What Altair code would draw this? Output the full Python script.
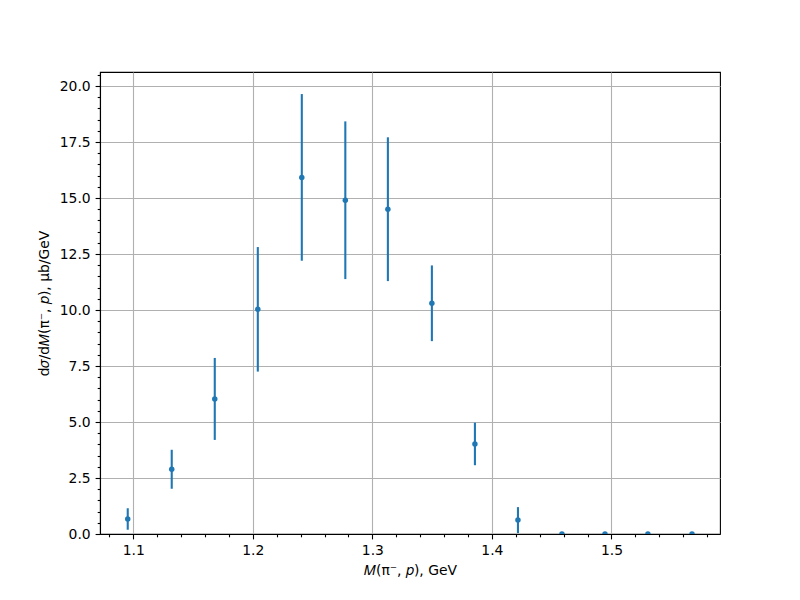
import altair as alt
import pandas as pd

# Data
mass = [1.0954, 1.1322, 1.1682, 1.2042, 1.2410, 1.2774, 1.3130,
        1.3498, 1.3858, 1.4218, 1.4586, 1.4946, 1.5305, 1.5674]
xsec = [0.67, 2.89, 6.03, 10.03, 15.92, 14.90, 14.50,
        10.30, 4.02, 0.62, 0.0, 0.0, 0.0, 0.0]
err = [0.48, 0.87, 1.83, 2.78, 3.72, 3.52, 3.21,
       1.69, 0.95, 0.58, 0.0, 0.0, 0.0, 0.0]

x_ticks = [1.08, 1.10, 1.12, 1.14, 1.16, 1.18, 1.20, 1.22, 1.24, 1.26, 1.28,
           1.30, 1.32, 1.34, 1.36, 1.38, 1.40, 1.42, 1.44, 1.46, 1.48, 1.50,
           1.52, 1.54, 1.56, 1.58]
y_ticks = [0.0, 0.5, 1.0, 1.5, 2.0, 2.5, 3.0, 3.5, 4.0, 4.5, 5.0, 5.5, 6.0,
           6.5, 7.0, 7.5, 8.0, 8.5, 9.0, 9.5, 10.0, 10.5, 11.0, 11.5, 12.0,
           12.5, 13.0, 13.5, 14.0, 14.5, 15.0, 15.5, 16.0, 16.5, 17.0, 17.5,
           18.0, 18.5, 19.0, 19.5, 20.0, 20.5]

df = pd.DataFrame({
    "m": mass,
    "y": xsec,
    "lo": [v - e for v, e in zip(xsec, err)],
    "hi": [v + e for v, e in zip(xsec, err)],
})

FONT = "DejaVu Sans"
BLUE = "#1f77b4"

x_major = "abs(datum.value*10 - round(datum.value*10)) < 0.001"
y_major = "abs(datum.value/2.5 - round(datum.value/2.5)) < 0.001"

x_axis = alt.Axis(
    values=x_ticks,
    title="𝑀(π⁻, 𝑝), GeV",
    labelExpr=f"{x_major} ? format(datum.value, '.1f') : ''",
    gridOpacity={"condition": {"test": x_major, "value": 1}, "value": 0},
    tickSize={"condition": {"test": x_major, "value": 4.9}, "value": 2.8},
    labelPadding=4.9,
    titlePadding=6,
)
y_axis = alt.Axis(
    values=y_ticks,
    title="d𝜎/d𝑀(π⁻, 𝑝), μb/GeV",
    labelExpr=f"{y_major} ? format(datum.value, '.1f') : ''",
    gridOpacity={"condition": {"test": y_major, "value": 1}, "value": 0},
    tickSize={"condition": {"test": y_major, "value": 4.9}, "value": 2.8},
    labelPadding=4.9,
    titlePadding=8,
)

xs = alt.Scale(domain=[1.0722, 1.5908], nice=False, zero=False)
ys = alt.Scale(domain=[0, 20.625], nice=False, zero=False)

bars = alt.Chart(df).mark_rule(color=BLUE, strokeWidth=2.1, clip=True).encode(
    x=alt.X("m:Q", scale=xs, axis=x_axis),
    y=alt.Y("lo:Q", scale=ys, axis=y_axis),
    y2="hi:Q",
)
pts = alt.Chart(df).mark_circle(color=BLUE, size=30, opacity=1, clip=True).encode(
    x=alt.X("m:Q", scale=xs, axis=x_axis),
    y=alt.Y("y:Q", scale=ys, axis=y_axis),
)

chart = alt.layer(bars, pts).properties(
    width=620,
    height=462,
    autosize=alt.AutoSizeParams(type="none"),
    padding={"left": 92, "top": 64, "right": 64, "bottom": 58},
    background="white",
).configure_view(
    stroke="black", strokeWidth=1.1
).configure_axis(
    labelFont=FONT, titleFont=FONT, labelFontSize=13.9, titleFontSize=13.9,
    titleFontWeight="normal", labelColor="black", titleColor="black",
    domainColor="black", domainWidth=1.1, tickColor="black", tickWidth=1.1,
    gridColor="#b0b0b0", gridWidth=1.1, labelFlush=False, labelOverlap=False,
)

chart.save("out.html", embed_options={"renderer": "svg", "actions": False})
